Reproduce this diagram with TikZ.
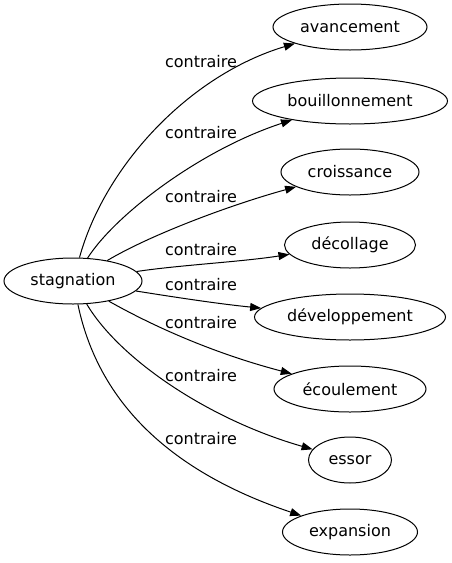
\documentclass[tikz,border=0pt]{standalone}
\usepackage{fontspec}
\setmainfont{DejaVu Sans}
\usetikzlibrary{shapes.geometric,arrows.meta}
\tikzset{mot/.style={draw, ellipse, inner sep=0pt, minimum height=46pt, line width=1pt}}
\tikzset{lien/.style={-{Triangle[length=11pt,width=8pt]}, line width=1pt}}

\begin{document}
\begin{tikzpicture}[x=1pt,y=-1pt,font=\fontsize{16}{19}\selectfont]
\useasboundingbox (0,0) rectangle (451,563);
\node[mot, minimum width=138pt] (stag) at (73,281) {stagnation};
\node[mot, minimum width=154pt] (avan) at (350,27) {avancement};
\node[mot, minimum width=195pt] (bouil) at (350,101) {bouillonnement};
\node[mot, minimum width=138pt] (crois) at (350,172) {croissance};
\node[mot, minimum width=131pt] (decol) at (350,245) {décollage};
\node[mot, minimum width=191pt] (devel) at (350,317) {développement};
\node[mot, minimum width=152pt] (ecoul) at (350,389) {écoulement};
\node[mot, minimum width=83pt] (essor) at (350,460) {essor};
\node[mot, minimum width=135pt] (expan) at (350,532) {expansion};
% les aretes
\draw[lien] (stag) .. controls (105,165) and (190,75) .. (avan);
\draw[lien] (stag) .. controls (115,215) and (200,150) .. (bouil);
\draw[lien] (stag) .. controls (150,235) and (230,205) .. (crois);
\draw[lien] (stag) .. controls (180,265) and (240,262) .. (decol);
\draw[lien] (stag) .. controls (180,298) and (220,304) .. (devel);
\draw[lien] (stag) .. controls (160,330) and (220,355) .. (ecoul);
\draw[lien] (stag) .. controls (120,360) and (210,420) .. (essor);
\draw[lien] (stag) .. controls (100,410) and (180,475) .. (expan);
% les etiquettes
\node (l1) at (201,62) {contraire};
\node (l2) at (201,133) {contraire};
\node (l3) at (201,197) {contraire};
\node (l4) at (201,250) {contraire};
\node (l5) at (201,285) {contraire};
\node (l6) at (201,323) {contraire};
\node (l7) at (201,376) {contraire};
\node (l8) at (201,439) {contraire};
\end{tikzpicture}
\end{document}
